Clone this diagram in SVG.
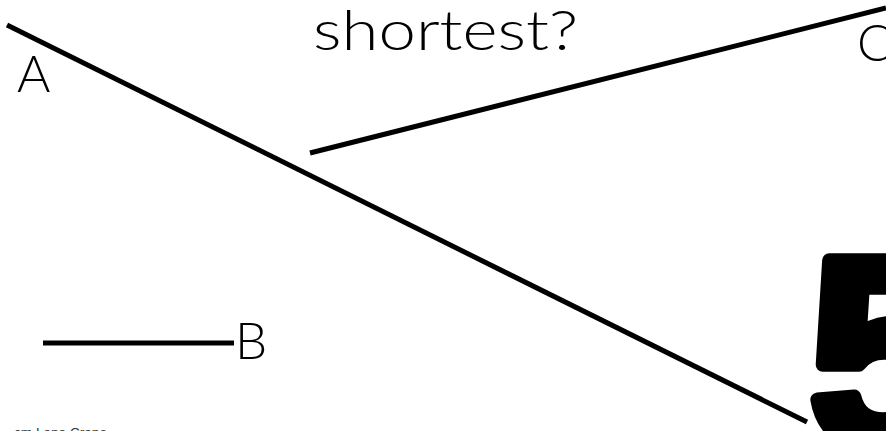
<svg xmlns="http://www.w3.org/2000/svg" width="886" height="431" viewBox="0 0 886 431">
<style>
.seg{stroke:#000;stroke-width:5;stroke-linecap:butt;fill:none}
.lbl{font-family:Lato,"Open Sans","Liberation Sans",sans-serif;font-weight:300;fill:#000}
</style>
<rect width="886" height="431" fill="#fff"/>
<g id="title"><text class="lbl" x="313" y="50" font-size="56" textLength="265" lengthAdjust="spacingAndGlyphs">shortest?</text></g>
<g id="connectors">
<line class="seg" x1="7" y1="25" x2="807" y2="422"/>
<line class="seg" x1="310" y1="153" x2="886" y2="8"/>
<line class="seg" x1="43" y1="343" x2="234" y2="343"/>
</g>
<g id="label-A"><text class="lbl" x="17" y="92" font-size="51">A</text></g>
<g id="label-B"><text class="lbl" x="235" y="359" font-size="51">B</text></g>
<g id="label-C"><text class="lbl" x="857" y="61" font-size="51">C</text></g>
<g id="number"><text x="809" y="446" font-family="'Liberation Sans',Arial,sans-serif" font-weight="bold" font-size="270" fill="#000" stroke="#000" stroke-width="14" stroke-linejoin="round">5</text></g>
<g id="credit"><text x="14" y="437" font-family="'Liberation Sans',sans-serif" font-size="12" fill="#333" textLength="93" lengthAdjust="spacingAndGlyphs">cm Lana Crane</text></g>
</svg>
